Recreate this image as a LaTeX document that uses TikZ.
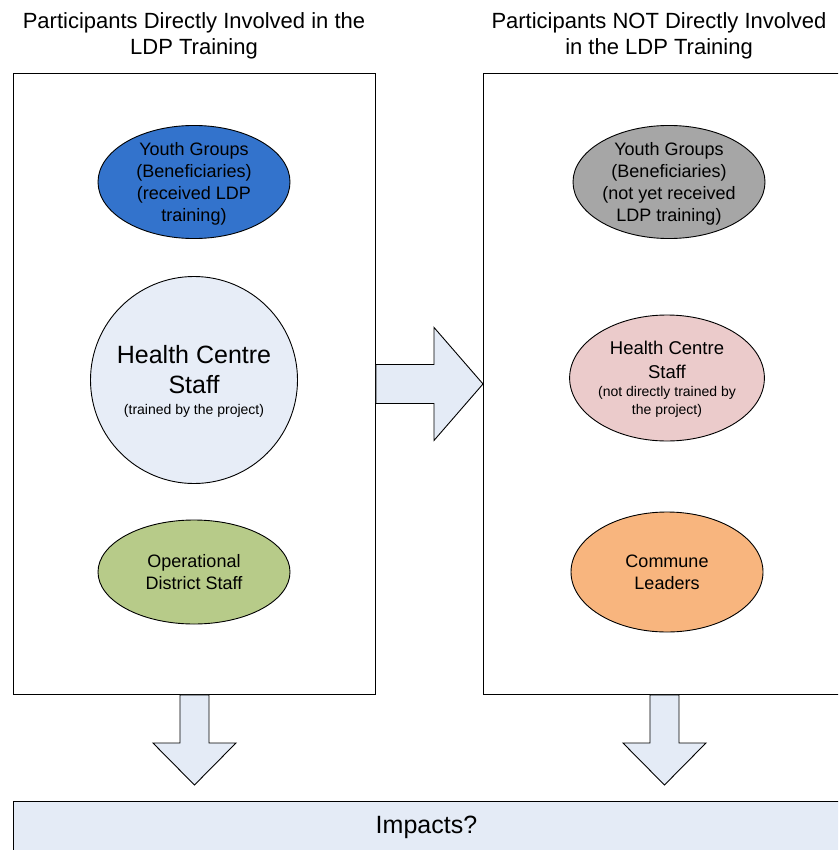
\documentclass[tikz,border=0pt]{standalone}
\usepackage{fontspec}
\setmainfont{Liberation Sans}
\usetikzlibrary{shapes.geometric,calc}

\definecolor{youthblue}{HTML}{3373CC}
\definecolor{hclight}{HTML}{E7EDF7}
\definecolor{odgreen}{HTML}{B7CB89}
\definecolor{youthgrey}{HTML}{A6A6A6}
\definecolor{hcpink}{HTML}{EBCBCB}
\definecolor{leaderorange}{HTML}{F8B57E}
\definecolor{blockfill}{HTML}{E4EBF6}

\begin{document}
\begin{tikzpicture}[x=1pt,y=-1pt,
  panel/.style={draw=black, line width=0.9pt, fill=white, minimum width=362pt,
    minimum height=621pt, anchor=north west, inner sep=0pt},
  heading/.style={align=center, font=\fontsize{22}{26}\selectfont, inner sep=0pt},
  oval/.style={ellipse, draw=black, line width=0.9pt, inner sep=0pt, text depth=0pt,
    minimum width=192pt, minimum height=104pt, align=center,
    font=\fontsize{18}{22.3}\selectfont},
  blockarrow/.style={draw=black, line width=0.9pt, fill=blockfill, line join=miter},
  outcome/.style={draw=black, line width=0.9pt, fill=blockfill, anchor=north west,
    minimum width=826pt, minimum height=52pt, inner sep=0pt,
    font=\fontsize{25}{30}\selectfont}]

\useasboundingbox (0,0) rectangle (838,850);
\clip (0,0) rectangle (838,850);

% the two participant panels
\node[panel] (left) at (13,73) {};
\node[panel] (right) at (483,73) {};

% panel headings
\node[heading] (lefthead) at (194,36) {Participants Directly Involved in the\\LDP Training};
\node[heading] (righthead) at (659,36) {Participants NOT Directly Involved\\in the LDP Training};

% groups trained directly
\node[oval, fill=youthblue] (youthdone) at (194,182)
  {Youth Groups\\(Beneficiaries)\\(received LDP\\training)};
\node[circle, draw=black, line width=0.9pt, fill=hclight, minimum size=207pt,
  inner sep=0pt, text depth=0pt, align=center, font=\fontsize{25}{30}\selectfont] (hcdone) at (194,380)
  {Health Centre\\Staff\\[-9pt]{\fontsize{14}{16}\selectfont (trained by the project)}};
\node[oval, fill=odgreen] (district) at (194,572) {Operational\\District Staff};

% groups reached indirectly
\node[oval, fill=youthgrey] (youthnot) at (669,182)
  {Youth Groups\\(Beneficiaries)\\(not yet received\\LDP training)};
\node[oval, fill=hcpink, minimum height=126pt, font=\fontsize{18.5}{24}\selectfont] (hcnot) at (667,378)
  {Health Centre\\Staff\\[-5.5pt]{\fontsize{14}{16}\selectfont (not directly trained by}\\[-6pt]{\fontsize{14}{16}\selectfont the project)}};
\node[oval, fill=leaderorange, minimum height=120pt] (leaders) at (667,572) {Commune\\Leaders};

% impacts bar
\node[outcome] (impacts) at (13,801) {Impacts?};

% block arrow between the panels
\coordinate (ra) at (left.east);
\coordinate (rt) at (right.west);
\filldraw[blockarrow] ($(ra)+(0,-19.5)$) -- ($(rt)+(-49,-19.5)$) -- ($(rt)+(-49,-56.5)$)
  -- (rt) -- ($(rt)+(-49,56.5)$) -- ($(rt)+(-49,19.5)$) -- ($(ra)+(0,19.5)$) -- cycle;

% block arrows from the panels down to the impacts bar
\coordinate (ls) at (left.south);
\coordinate (lt) at ($(left.south |- impacts.north)+(0,-16)$);
\filldraw[blockarrow] ($(ls)+(-14.5,0)$) -- ($(lt)+(-14.5,-42)$) -- ($(lt)+(-41.5,-42)$)
  -- (lt) -- ($(lt)+(41.5,-42)$) -- ($(lt)+(14.5,-42)$) -- ($(ls)+(14.5,0)$) -- cycle;

\coordinate (rs) at (right.south);
\coordinate (rtp) at ($(right.south |- impacts.north)+(0,-16)$);
\filldraw[blockarrow] ($(rs)+(-14.5,0)$) -- ($(rtp)+(-14.5,-42)$) -- ($(rtp)+(-41.5,-42)$)
  -- (rtp) -- ($(rtp)+(41.5,-42)$) -- ($(rtp)+(14.5,-42)$) -- ($(rs)+(14.5,0)$) -- cycle;
\end{tikzpicture}
\end{document}
